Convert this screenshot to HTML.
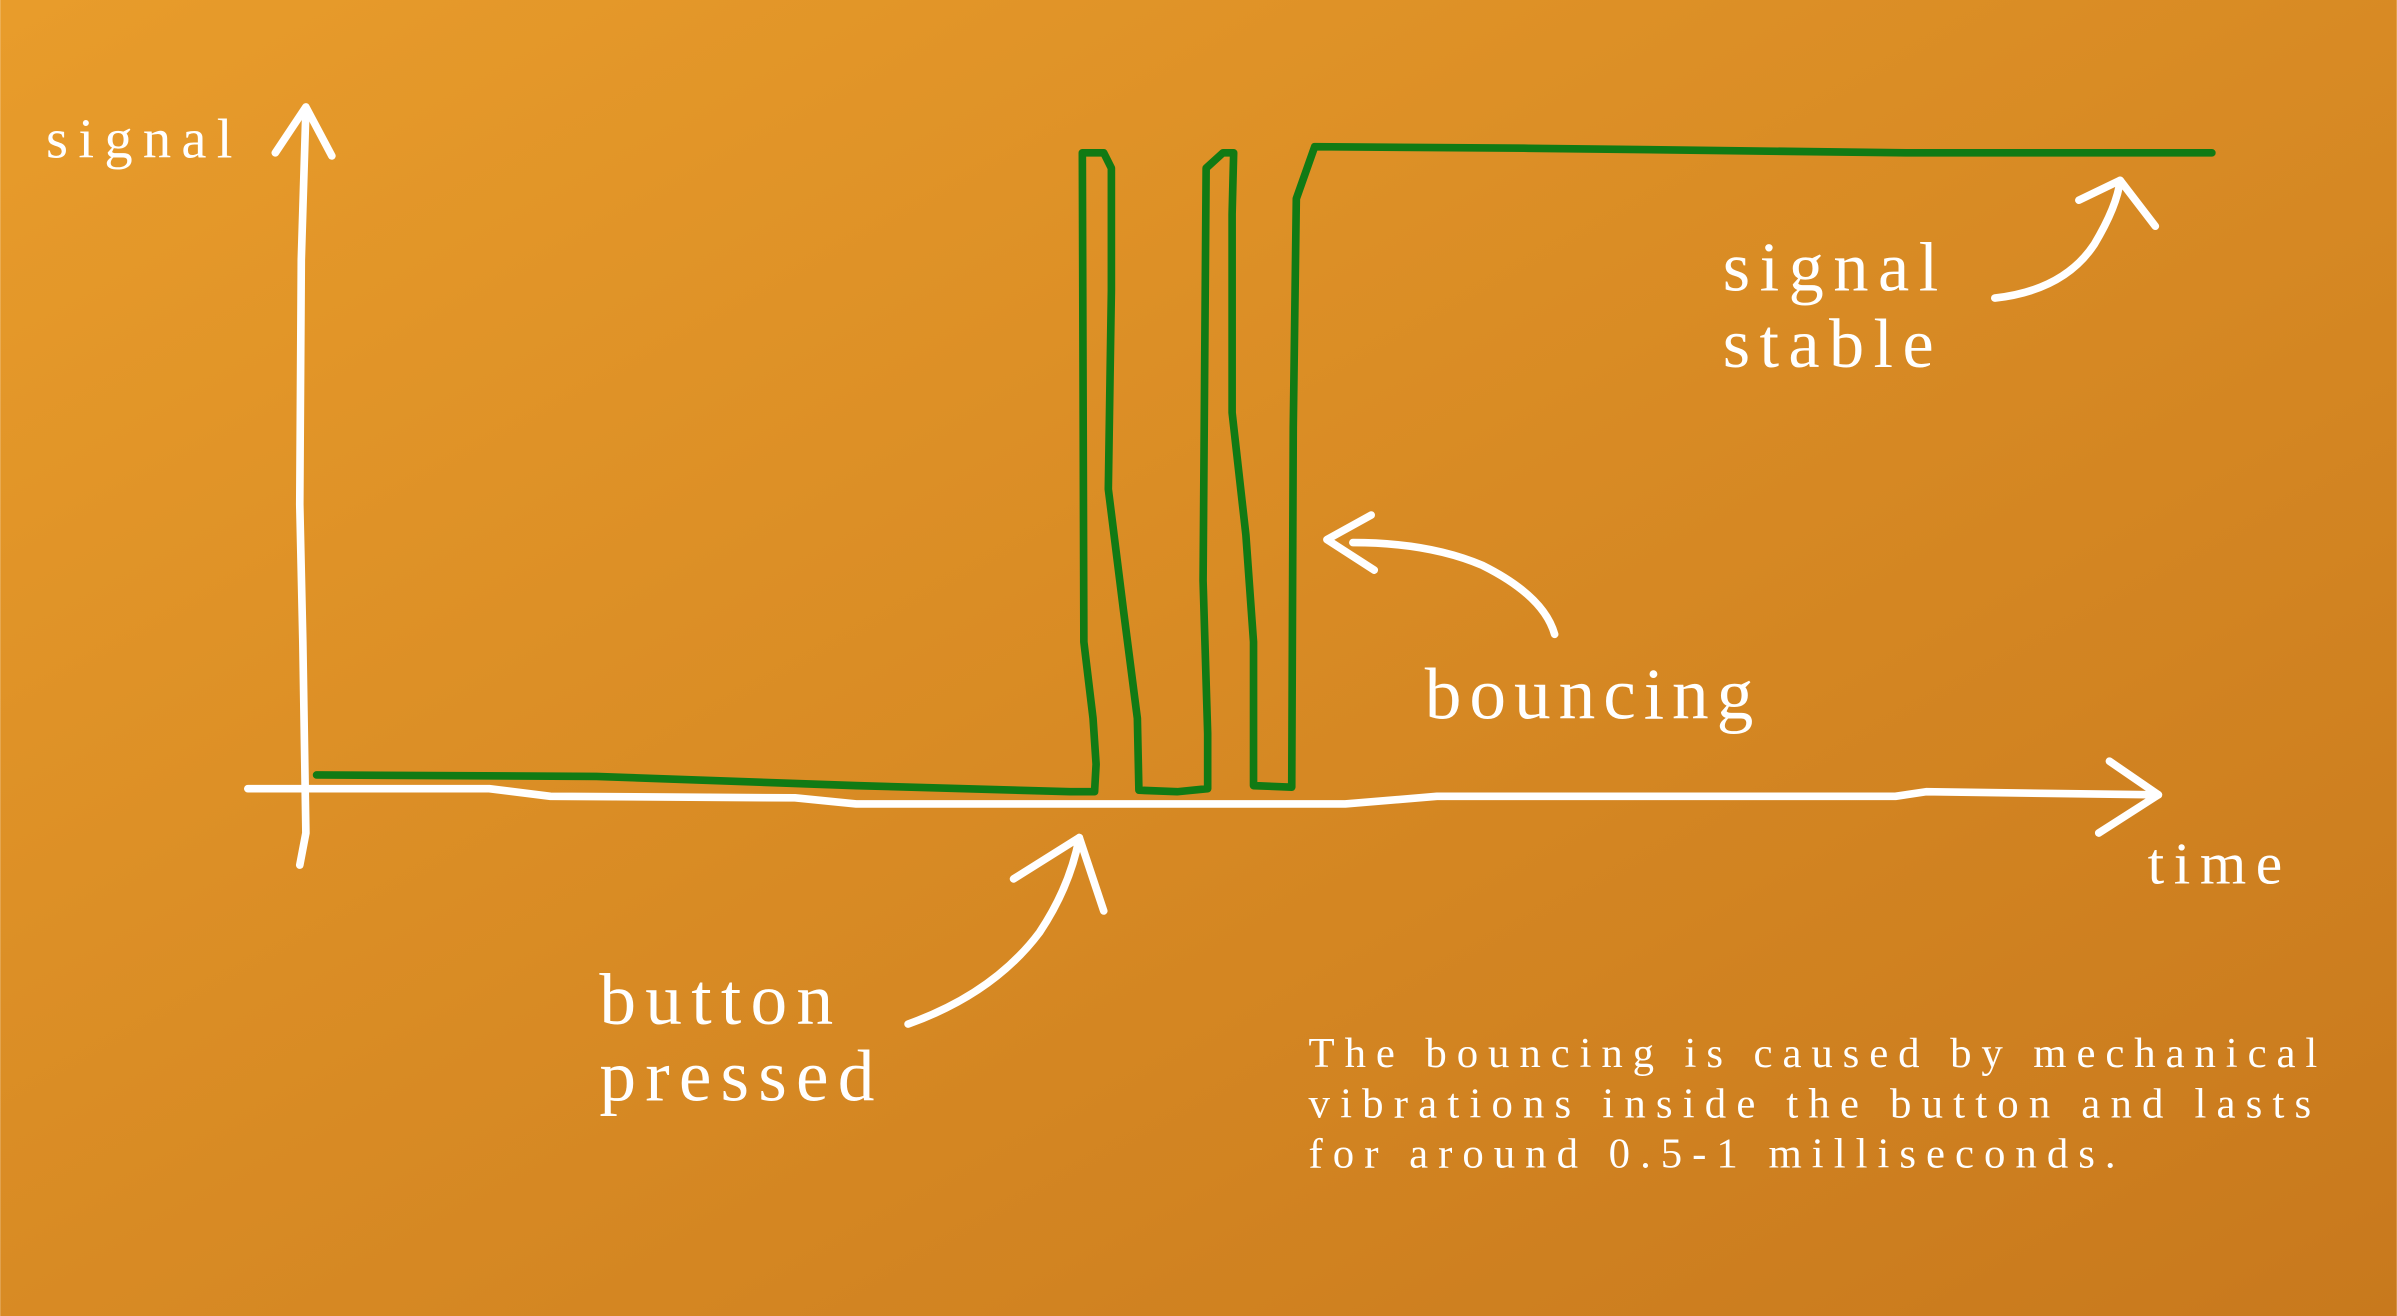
<!DOCTYPE html>
<html><head><meta charset="utf-8"><style>
html,body{margin:0;padding:0;width:2397px;height:1316px;overflow:hidden}
svg{display:block}
text{font-family:"Liberation Serif",serif;fill:#fff}
</style></head><body>
<svg width="2397" height="1316" viewBox="0 0 1568 861" xmlns="http://www.w3.org/2000/svg">
<defs><linearGradient id="g" x1="0" y1="0" x2="1" y2="1">
<stop offset="0" stop-color="#e89c2b"/><stop offset="1" stop-color="#c8791d"/></linearGradient></defs>
<rect width="1568" height="861" fill="url(#g)"/>
<g fill="none" stroke="#fff" stroke-width="5" stroke-linecap="round" stroke-linejoin="round">
<path d="M196,566 L200,545 L198,420 L196,330 L197,170 L200,72"/>
<path d="M180,100 L200,70 L217,102"/>
<path d="M162,516 L320,516 L360,521 L520,522 L560,526 L880,526 L940,521 L1240,521 L1260,518 L1412,520"/>
<path d="M1380,498 L1412,520 L1373,545"/>
<path d="M1305,195 Q1350,190 1370,160 Q1385,135 1387,118"/>
<path d="M1360,131 L1387,118 L1410,148"/>
<path d="M1017,415 Q1010,390 970,370 Q935,355 885,355"/>
<path d="M897,337 L868,353 L899,373"/>
<path d="M594,670 Q650,650 680,610 Q700,580 706,548"/>
<path d="M663,575 L706,548 L722,596"/>
</g>
<path fill="none" stroke="#117a14" stroke-width="5" stroke-linejoin="round" stroke-linecap="round"
d="M207,507 L390,508 L560,514 L700,518 L716,518 L717,500 L715,470 L709,420 L708,100 L722,100 L727,110 L727,190 L725,320 L735,400 L744,470 L745,517 L770,518 L790,516 L790,480 L787,380 L789,110 L800,100 L807,100 L806,140 L806,270 L815,350 L820,420 L820,514 L845,515 L846,280 L848,130 L860,96 L1000,97 L1250,100 L1447,100"/>
<text x="30" y="103" font-size="37" textLength="122" lengthAdjust="spacing">signal</text>
<text x="1127" y="190" font-size="46" textLength="141" lengthAdjust="spacing">signal</text>
<text x="1127" y="240" font-size="46" textLength="138" lengthAdjust="spacing">stable</text>
<text x="932" y="470" font-size="48" textLength="215" lengthAdjust="spacing">bouncing</text>
<text x="1405" y="578" font-size="39" textLength="88" lengthAdjust="spacing">time</text>
<text x="392" y="670" font-size="48" textLength="153" lengthAdjust="spacing">button</text>
<text x="392" y="720" font-size="48" textLength="180" lengthAdjust="spacing">pressed</text>
<text x="856" y="698" font-size="28" textLength="660" lengthAdjust="spacing">The bouncing is caused by mechanical</text>
<text x="856" y="731" font-size="28" textLength="656" lengthAdjust="spacing">vibrations inside the button and lasts</text>
<text x="856" y="764" font-size="28" textLength="528" lengthAdjust="spacing">for around 0.5-1 milliseconds.</text>
</svg>
</body></html>
